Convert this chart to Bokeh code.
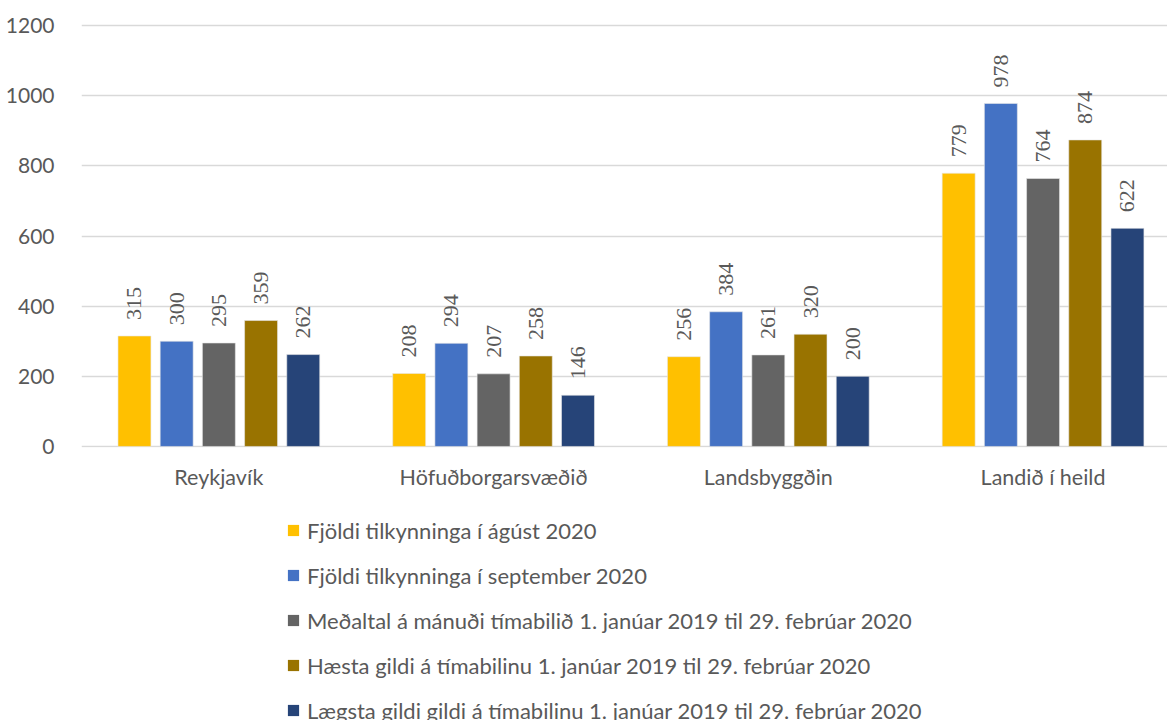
from bokeh.plotting import figure
from bokeh.layouts import column
from bokeh.models import (ColumnDataSource, Range1d, FixedTicker, LabelSet,
                          Legend, LegendItem)
from bokeh.embed import file_html
from bokeh.resources import INLINE

categories = ["Reykjavík", "Höfuðborgarsvæðið", "Landsbyggðin", "Landið í heild"]
series_names = [
    "Fjöldi tilkynninga í ágúst 2020",
    "Fjöldi tilkynninga í september 2020",
    "Meðaltal á mánuði tímabilið 1. janúar 2019 til 29. febrúar 2020",
    "Hæsta gildi á tímabilinu 1. janúar 2019 til 29. febrúar 2020",
    "Lægsta gildi gildi á tímabilinu 1. janúar 2019 til 29. febrúar 2020",
]
agust_2020 = [315, 208, 256, 779]
september_2020 = [300, 294, 384, 978]
medaltal = [295, 207, 261, 764]
haesta_gildi = [359, 258, 320, 874]
laegsta_gildi = [262, 146, 200, 622]
y_ticks = [0, 200, 400, 600, 800, 1000, 1200]

series_values = [agust_2020, september_2020, medaltal, haesta_gildi, laegsta_gildi]
colors = ["#FFC000", "#4472C4", "#646464", "#997300", "#264478"]

FONT = "Lato"
TXT = "#595959"

p = figure(width=1167, height=500, output_backend="svg", toolbar_location=None,
           x_range=Range1d(-0.5, 3.453), y_range=Range1d(-3, 1206),
           min_border_left=81, min_border_right=0, min_border_top=23,
           min_border_bottom=53, outline_line_color=None)

# legend panel below the chart (same data, proxies hidden)
lg = figure(width=1167, height=220, output_backend="svg", toolbar_location=None,
            x_range=Range1d(0, 1), y_range=Range1d(0, 1),
            x_axis_location=None, y_axis_location=None,
            min_border_left=0, min_border_right=0, min_border_top=0,
            min_border_bottom=0, outline_line_color=None)
lg.xgrid.grid_line_color = None
lg.ygrid.grid_line_color = None

step = 0.1536
width = 0.12
items = []
for i, (name, vals, col) in enumerate(zip(series_names, series_values, colors)):
    xs = [k + (i - 2) * step for k in range(len(categories))]
    src = ColumnDataSource(dict(x=xs, top=vals, lab=[str(v) for v in vals]))
    p.vbar(x="x", top="top", width=width, bottom=0, source=src,
           fill_color=col, line_color="#E8E8E8", line_width=0.6)
    labels = LabelSet(x="x", y="top", text="lab", source=src, angle=1.5708,
                      text_align="left", text_baseline="middle", y_offset=16,
                      text_font=FONT, text_font_size="22px", text_color=TXT)
    p.add_layout(labels)
    proxy = lg.vbar(x="x", top="top", width=width, bottom=0, source=src,
                    fill_color=col, line_color=None, visible=False)
    items.append(LegendItem(label=name, renderers=[proxy]))

# axes
p.yaxis.ticker = FixedTicker(ticks=y_ticks)
p.yaxis.axis_line_color = None
p.yaxis.major_tick_line_color = None
p.yaxis.minor_tick_line_color = None
p.yaxis.major_label_standoff = 21
p.yaxis.major_label_text_font = FONT
p.yaxis.major_label_text_font_size = "21px"
p.yaxis.major_label_text_color = TXT

p.xaxis.ticker = FixedTicker(ticks=list(range(len(categories))))
p.xaxis.major_label_overrides = {i: c for i, c in enumerate(categories)}
p.xaxis.axis_line_color = None
p.xaxis.major_tick_line_color = None
p.xaxis.minor_tick_line_color = None
p.xaxis.major_label_standoff = 10
p.xaxis.major_label_text_font = FONT
p.xaxis.major_label_text_font_size = "21.5px"
p.xaxis.major_label_text_color = TXT

p.xgrid.grid_line_color = None
p.ygrid.grid_line_color = "#D9D9D9"
p.ygrid.grid_line_width = 1.5

legend = Legend(items=items, location=(205, -3.5), orientation="vertical",
                glyph_width=14, glyph_height=14, label_height=27, spacing=18,
                label_standoff=7, padding=0, margin=0,
                border_line_color=None, background_fill_alpha=0,
                label_text_font=FONT, label_text_font_size="22px",
                label_text_color=TXT)
lg.add_layout(legend, "center")

layout = column(p, lg, spacing=0)
open("out.html", "w").write(file_html(layout, INLINE))
